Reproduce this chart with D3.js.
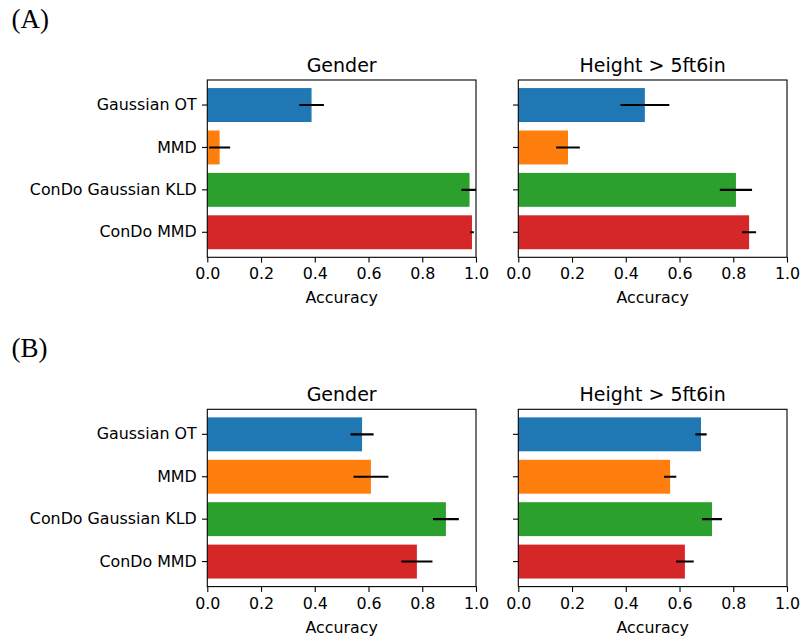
<!DOCTYPE html>
<html>
<head>
<meta charset="utf-8">
<script src="https://cdn.jsdelivr.net/npm/d3@7"></script>
<style>
  html, body { margin: 0; padding: 0; background: #fff; }
  svg { display: block; }
</style>
</head>
<body>
<svg id="chart" width="800" height="639"></svg>
<script>
// ---- data ----
const methods = ["Gaussian OT", "MMD", "ConDo Gaussian KLD", "ConDo MMD"];
const colors = ["#1f77b4", "#ff7f0e", "#2ca02c", "#d62728"];
const xTicks = [0, 0.2, 0.4, 0.6, 0.8, 1.0];
const panelTitles = ["Gender", "Height > 5ft6in"];
const rowLabels = ["(A)", "(B)"];

const aGenderMean = [0.388, 0.046, 0.976, 0.985];
const aGenderErr  = [0.046, 0.039, 0.030, 0.007];
const aHeightMean = [0.471, 0.185, 0.810, 0.859];
const aHeightErr  = [0.091, 0.044, 0.060, 0.026];
const bGenderMean = [0.576, 0.609, 0.888, 0.780];
const bGenderErr  = [0.043, 0.065, 0.048, 0.058];
const bHeightMean = [0.680, 0.565, 0.721, 0.620];
const bHeightErr  = [0.021, 0.023, 0.037, 0.033];

const rows = [
  [{mean: aGenderMean, err: aGenderErr}, {mean: aHeightMean, err: aHeightErr}],
  [{mean: bGenderMean, err: bGenderErr}, {mean: bHeightMean, err: bHeightErr}]
];

// ---- layout ----
const svg = d3.select("#chart");
const colX = [207.3, 518.3];
const axW = 268.7;
const rowY = [80, 409.3];
const axH = 177.3;
const labelY = [27.5, 357];
const tickLen = 5.3, tickPad = 5.3;
const fontSans = "'DejaVu Sans', sans-serif";
const tickFs = 15.85, titleFs = 19.0;

rows.forEach((row, ri) => {
  svg.append("text")
    .attr("x", 11.5).attr("y", labelY[ri])
    .attr("font-family", "'Liberation Serif', 'DejaVu Serif', serif")
    .attr("font-size", 27)
    .attr("fill", "#000")
    .text(rowLabels[ri]);

  row.forEach((panel, ci) => {
    const x0 = colX[ci], y0 = rowY[ri];
    const g = svg.append("g").attr("transform", `translate(${x0},${y0})`);
    const x = d3.scaleLinear().domain([0, 1]).range([0, axW]);
    const y = d3.scaleBand().domain(methods).range([0, axH])
      .paddingInner(0.2).paddingOuter(0.19);

    const clipId = `clip-${ri}-${ci}`;
    g.append("clipPath").attr("id", clipId)
      .append("rect").attr("x", 0).attr("y", 0).attr("width", axW).attr("height", axH);

    const plot = g.append("g").attr("clip-path", `url(#${clipId})`);
    plot.selectAll("rect.bar").data(methods).join("rect")
      .attr("class", "bar")
      .attr("x", x(0))
      .attr("y", d => y(d))
      .attr("width", (d, i) => x(panel.mean[i]) - x(0))
      .attr("height", y.bandwidth())
      .attr("fill", (d, i) => colors[i]);

    plot.selectAll("line.err").data(methods).join("line")
      .attr("class", "err")
      .attr("x1", (d, i) => x(panel.mean[i] - panel.err[i]))
      .attr("x2", (d, i) => x(panel.mean[i] + panel.err[i]))
      .attr("y1", d => y(d) + y.bandwidth() / 2)
      .attr("y2", d => y(d) + y.bandwidth() / 2)
      .attr("stroke", "#000")
      .attr("stroke-width", 2.1);

    // axes
    const xAxis = d3.axisBottom(x).tickValues(xTicks).tickFormat(d3.format(".1f"))
      .tickSize(tickLen).tickPadding(tickPad);
    const gx = g.append("g").attr("transform", `translate(0,${axH})`).call(xAxis);
    const yAxis = d3.axisLeft(y).tickSize(tickLen).tickPadding(tickPad);
    const gy = g.append("g").call(yAxis);
    if (ci === 1) gy.selectAll("text").remove();

    [gx, gy].forEach(a => {
      a.select(".domain").remove();
      a.selectAll("line").attr("stroke", "#000").attr("stroke-width", 1.1);
      a.selectAll("text").attr("font-family", fontSans).attr("font-size", tickFs).attr("fill", "#000");
    });
    gx.selectAll("text").attr("dy", null).attr("y", tickLen + tickPad + 11.5);

    // frame
    g.append("rect").attr("x", 0).attr("y", 0).attr("width", axW).attr("height", axH)
      .attr("fill", "none").attr("stroke", "#000").attr("stroke-width", 1.1);

    // title
    g.append("text").attr("x", axW / 2).attr("y", -8.5)
      .attr("text-anchor", "middle")
      .attr("font-family", fontSans).attr("font-size", titleFs).attr("fill", "#000")
      .text(panelTitles[ci]);

    // xlabel
    g.append("text").attr("x", axW / 2).attr("y", axH + 46)
      .attr("text-anchor", "middle")
      .attr("font-family", fontSans).attr("font-size", tickFs).attr("fill", "#000")
      .text("Accuracy");
  });
});
</script>
</body>
</html>
